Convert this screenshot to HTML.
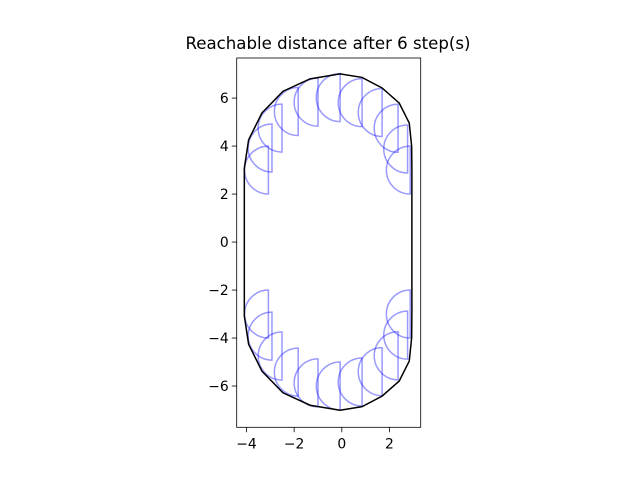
<!DOCTYPE html>
<html><head><meta charset="utf-8"><style>
body{margin:0;background:#fff;font-family:"Liberation Sans","DejaVu Sans",sans-serif}
text{font-family:"DejaVu Sans","Liberation Sans",sans-serif}
</style></head><body>
<svg id="c" width="640" height="480" viewBox="0 0 640 480">
<rect width="640" height="480" fill="#fff"/>
<text x="328" y="49" text-anchor="middle" font-size="16.6">Reachable distance after 6 step(s)</text>
<g id="plot"></g>
</svg>
<script>
const xTicks=[-4,-2,0,2];
const yTicks=[-6,-4,-2,0,2,4,6];
const semiX=[-3.08,-2.93,-2.51,-1.83,-1.0,-0.07,0.85,1.69,2.36,2.76,2.87,-3.08,-2.93,-2.51,-1.83,-1.0,-0.07,0.85,1.69,2.36,2.76,2.87];
const semiY=[3.0,3.92,4.75,5.44,5.83,6.02,5.81,5.4,4.74,3.88,3.0,-3.0,-3.92,-4.75,-5.42,-5.87,-6.0,-5.83,-5.4,-4.74,-3.88,-3.0];
const semiR=1;
const hullX=[-4.09,-3.91,-3.35,-2.47,-1.33,-0.07,0.85,1.69,2.41,2.83,2.93,2.94,2.94,2.93,2.83,2.41,1.69,0.85,-0.07,-1.33,-2.47,-3.35,-3.91,-4.09];
const hullY=[3.08,4.26,5.38,6.28,6.8,7.01,6.86,6.42,5.79,4.96,3.99,3.0,-3.0,-3.99,-4.96,-5.79,-6.42,-6.86,-7.01,-6.8,-6.28,-5.38,-4.26,-3.08];
const L=236.7,R=420.7,T=58,B=427.3;
const xMin=-4.41,xMax=3.31,yMin=-7.72,yMax=7.67;
const sx=v=>L+(v-xMin)/(xMax-xMin)*(R-L);
const sy=v=>B-(v-yMin)/(yMax-yMin)*(B-T);
const NS='http://www.w3.org/2000/svg';
const g=document.getElementById('plot');
function mk(t,a){const e=document.createElementNS(NS,t);for(const k in a)e.setAttribute(k,a[k]);g.appendChild(e);return e;}
for(let i=0;i<semiX.length;i++){
  const x=sx(semiX[i]),yt=sy(semiY[i]+semiR),yb=sy(semiY[i]-semiR);
  const rx=sx(semiX[i])-sx(semiX[i]-semiR),ry=yb-sy(semiY[i]);
  const p=mk('path',{d:`M${x},${yt} A${rx},${ry} 0 0 0 ${x},${yb} Z`,fill:'none',stroke:'rgba(0,0,255,0.4)','stroke-width':1.5});
  
  
}
let d='';
for(let i=0;i<hullX.length;i++)d+=(i?'L':'M')+sx(hullX[i])+','+sy(hullY[i]);
const h=mk('path',{d:d+'Z',fill:'none',stroke:'#000','stroke-width':1.5});


const fr=mk('rect',{x:L,y:T,width:R-L,height:B-T,fill:'none',stroke:'#000','stroke-width':0.8});


xTicks.forEach(v=>{
  const x=sx(v);
  const t=mk('line',{x1:x,x2:x,y1:B,y2:B+4.9,stroke:'#000','stroke-width':0.8});
  
  
  const l=mk('text',{x:x,y:B+21,'text-anchor':'middle','font-size':13.9});
  l.textContent=v<0?'\u2212'+(-v):v;
  
  
});
yTicks.forEach(v=>{
  const y=sy(v);
  const t=mk('line',{x1:L-4.9,x2:L,y1:y,y2:y,stroke:'#000','stroke-width':0.8});
  
  
  const l=mk('text',{x:L-8,y:y+5,'text-anchor':'end','font-size':13.9});
  l.textContent=v<0?'\u2212'+(-v):v;
  
  
});
</script>
</body></html>
